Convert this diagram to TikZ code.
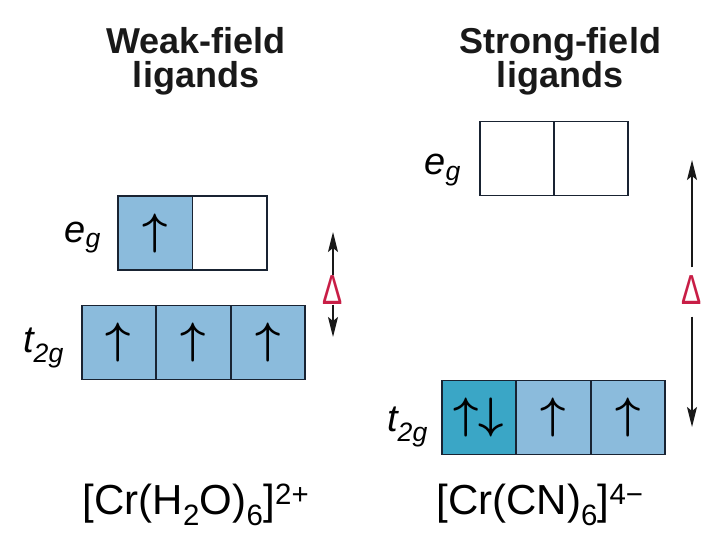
\documentclass[tikz,border=0pt]{standalone}
\usepackage{fontspec}
\usepackage{graphicx}
\usepackage{bm}
\setmainfont{Liberation Sans}
\usetikzlibrary{arrows.meta, positioning, shapes.multipart}
\definecolor{orbblue}{RGB}{139, 187, 220}
\definecolor{pairteal}{RGB}{58, 166, 198}
\definecolor{deltared}{RGB}{200, 30, 70}
\definecolor{edgenavy}{RGB}{25, 35, 50}
\newcommand{\spinup}{\scalebox{4.4}{$\bm{\uparrow}$}}
\newcommand{\spinpair}{\scalebox{4.4}{$\bm{\uparrow}\bm{\downarrow}$}}
\newcommand{\cell}[1]{\makebox[73.3pt]{\rule[-37pt]{0pt}{74pt}\raisebox{-.5\height}{\raisebox{\depth}{#1}}}}

\begin{document}
\begin{tikzpicture}[x=1pt, y=-1pt,
  orbs/.style={rectangle split, rectangle split horizontal, rectangle split parts=#1, draw=edgenavy, line width=1.8pt, inner sep=0pt, outer sep=0pt},
  heading/.style={font=\fontsize{36}{34}\selectfont\bfseries, align=center, text=black!90},
  level/.style={font=\fontsize{38}{38}\selectfont\itshape, inner sep=0pt, anchor=base east},
  ion/.style={font=\fontsize{42}{42}\selectfont, inner sep=0pt, anchor=base},
  gap/.style={font=\fontsize{42}{42}\selectfont, text=deltared, inner sep=0pt},
  split/.style={-{Stealth[length=20pt, width=10pt, inset=4pt]}, line width=1.7pt, black!90}]
  \useasboundingbox (0,0) rectangle (720,540);

  % weak-field side
  \node[heading] (wtitle) at (196,61) {Weak-field\\ligands};
  \node[orbs=2, rectangle split part fill={orbblue, white}] (weg) at (192.5,233)
    {\cell{\spinup}\nodepart{two}\cell{}};
  \node[orbs=3, rectangle split part fill={orbblue, orbblue, orbblue}] (wt) at (193.5,342.5)
    {\cell{\spinup}\nodepart{two}\cell{\spinup}\nodepart{three}\cell{\spinup}};
  \node[level] (weglbl) at (101,242) {e\textsubscript{g}};
  \node[level] (wtlbl) at (64,352) {t\textsubscript{2g}};
  \node[ion] (wion) at (196,514) {[Cr(H\textsubscript{2}O)\textsubscript{6}]\textsuperscript{2+}};
  \node[gap] (wdelta) at (333,290) {\scalebox{0.72}[1]{Δ}};
  \coordinate (wtop) at (333,232);
  \coordinate (wbot) at (333,337);
  \draw[split] (wdelta) -- (wtop);
  \draw[split] (wdelta) -- (wbot);

  % strong-field side
  \node[heading] (stitle) at (560,61) {Strong-field\\ligands};
  \node[orbs=2, rectangle split part fill={white, white}] (seg) at (554,158.5)
    {\cell{}\nodepart{two}\cell{}};
  \node[orbs=3, rectangle split part fill={pairteal, orbblue, orbblue}] (st) at (553.5,417.5)
    {\cell{\spinpair}\nodepart{two}\cell{\spinup}\nodepart{three}\cell{\spinup}};
  \node[level] (seglbl) at (461,175) {e\textsubscript{g}};
  \node[level] (stlbl) at (428,431) {t\textsubscript{2g}};
  \node[ion] (sion) at (540,514) {[Cr(CN)\textsubscript{6}]\textsuperscript{4−}};
  \node[gap] (sdelta) at (692,290) {\scalebox{0.72}[1]{Δ}};
  \coordinate (stop) at (692,160);
  \coordinate (sbot) at (692,427);
  \draw[split, shorten <=8pt] (sdelta) -- (stop);
  \draw[split, shorten <=12pt] (sdelta) -- (sbot);
\end{tikzpicture}
\end{document}
